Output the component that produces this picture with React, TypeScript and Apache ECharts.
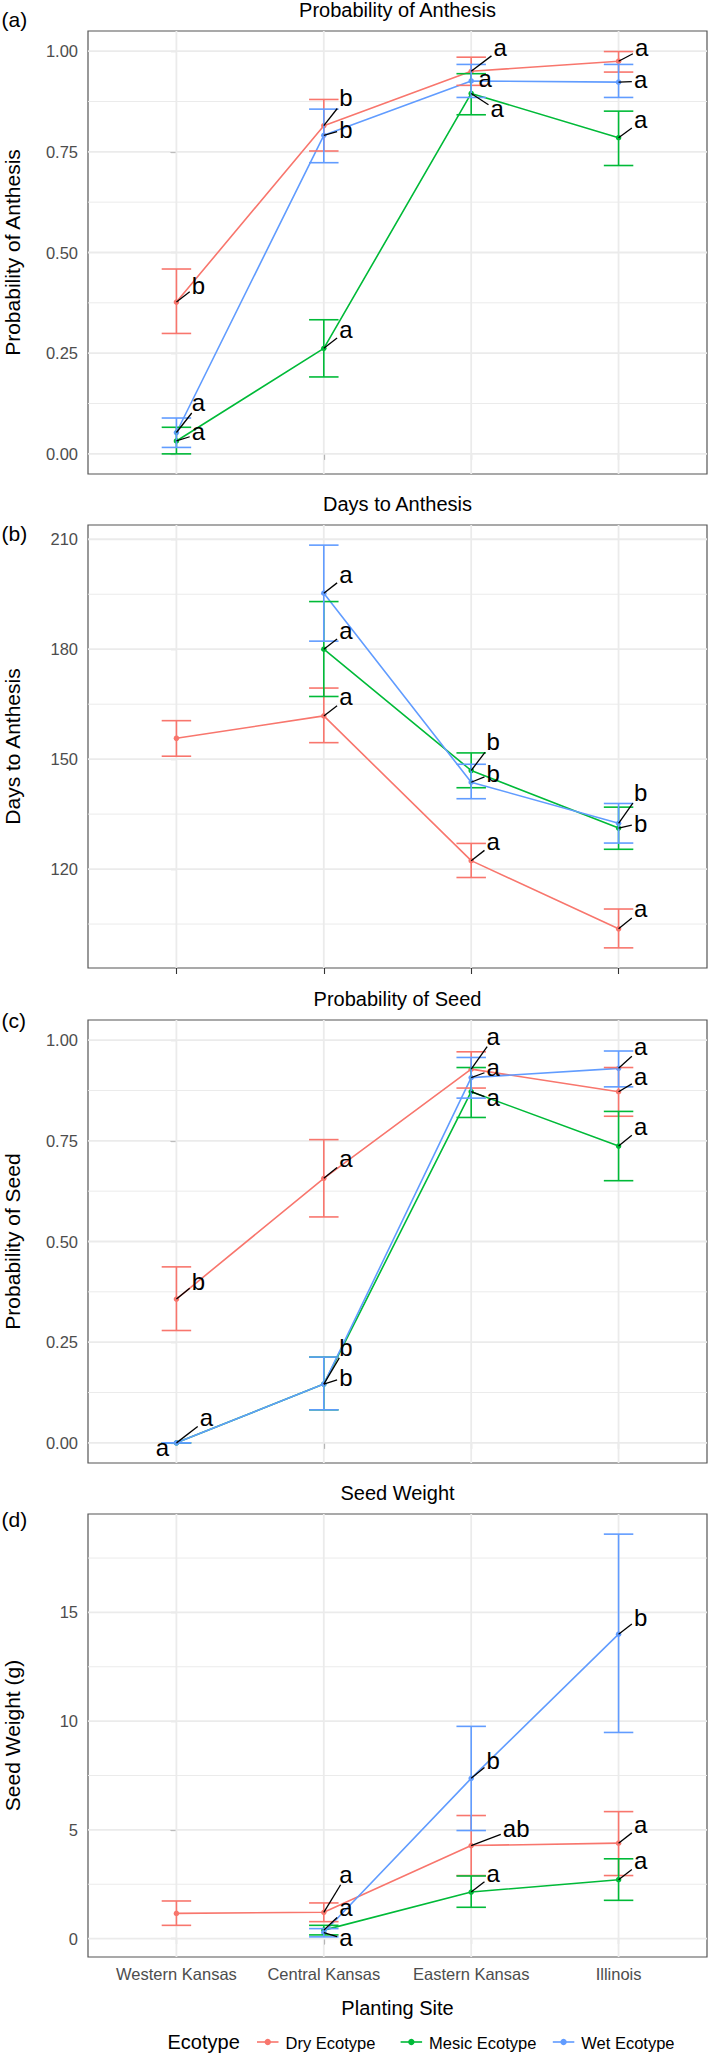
import React, { useEffect, useRef } from 'react';
import * as echarts from 'echarts';

// ---------- categories ----------
const sites = ['Western Kansas', 'Central Kansas', 'Eastern Kansas', 'Illinois'];
const ecotypes = ['Dry Ecotype', 'Mesic Ecotype', 'Wet Ecotype'];
const ecotypeColors = ['#F8766D', '#00BA38', '#619CFF'];

// ---------- (a) Probability of Anthesis ----------
const anthesisProbDry = [0.377, 0.815, 0.95, 0.975];
const anthesisProbDryLow = [0.299, 0.752, 0.915, 0.948];
const anthesisProbDryHigh = [0.459, 0.88, 0.985, 0.999];
const anthesisProbMesic = [0.032, 0.262, 0.895, 0.785];
const anthesisProbMesicLow = [0.0, 0.191, 0.842, 0.716];
const anthesisProbMesicHigh = [0.066, 0.333, 0.944, 0.851];
const anthesisProbWet = [0.053, 0.791, 0.926, 0.923];
const anthesisProbWetLow = [0.016, 0.723, 0.885, 0.885];
const anthesisProbWetHigh = [0.089, 0.856, 0.967, 0.967];
const anthesisProbLettersDry = ['b', 'b', 'a', 'a'];
const anthesisProbLettersMesic = ['a', 'a', 'a', 'a'];
const anthesisProbLettersWet = ['a', 'b', 'a', 'a'];

// ---------- (b) Days to Anthesis ----------
const daysDry = [155.7, 161.8, 122.3, 103.7];
const daysDryLow = [150.8, 154.5, 117.7, 98.5];
const daysDryHigh = [160.5, 169.4, 127.0, 109.1];
const daysMesic = [null, 180.0, 146.9, 131.2];
const daysMesicLow = [null, 167.1, 142.2, 125.4];
const daysMesicHigh = [null, 193.0, 151.7, 136.9];
const daysWet = [null, 195.3, 143.7, 132.5];
const daysWetLow = [null, 182.2, 139.2, 127.1];
const daysWetHigh = [null, 208.4, 148.6, 137.9];
const daysLettersDry = ['', 'a', 'a', 'a'];
const daysLettersMesic = ['', 'a', 'b', 'b'];
const daysLettersWet = ['', 'a', 'b', 'b'];

// ---------- (c) Probability of Seed ----------
const seedProbDry = [0.357, 0.657, 0.928, 0.872];
const seedProbDryLow = [0.279, 0.561, 0.881, 0.811];
const seedProbDryHigh = [0.437, 0.753, 0.971, 0.932];
const seedProbMesic = [0.0, 0.146, 0.872, 0.737];
const seedProbMesicLow = [0.0, 0.082, 0.808, 0.651];
const seedProbMesicHigh = [0.0, 0.213, 0.932, 0.823];
const seedProbWet = [0.0, 0.146, 0.907, 0.93];
const seedProbWetLow = [0.0, 0.082, 0.856, 0.884];
const seedProbWetHigh = [0.0, 0.213, 0.957, 0.973];
const seedProbLettersDry = ['b', 'a', 'a', 'a'];
const seedProbLettersMesic = ['a', 'b', 'a', 'a'];
const seedProbLettersWet = ['a', 'b', 'a', 'a'];

// ---------- (d) Seed Weight ----------
const seedWeightDry = [1.16, 1.21, 4.28, 4.39];
const seedWeightDryLow = [0.61, 0.78, 2.9, 2.9];
const seedWeightDryHigh = [1.73, 1.64, 5.66, 5.84];
const seedWeightMesic = [null, 0.39, 2.14, 2.71];
const seedWeightMesicLow = [null, 0.17, 1.44, 1.76];
const seedWeightMesicHigh = [null, 0.61, 2.88, 3.67];
const seedWeightWet = [null, 0.28, 7.37, 14.0];
const seedWeightWetLow = [null, 0.08, 4.97, 9.48];
const seedWeightWetHigh = [null, 0.46, 9.76, 18.6];
const seedWeightLettersDry = ['', 'a', 'ab', 'a'];
const seedWeightLettersMesic = ['', 'a', 'a', 'a'];
const seedWeightLettersWet = ['', 'a', 'b', 'b'];

// ---------- axis ticks ----------
const probLimits = [0, 1];
const probMajorTicks = [0, 0.25, 0.5, 0.75, 1];
const probMinorTicks = [0.125, 0.375, 0.625, 0.875];
const daysMajorTicks = [120, 150, 180, 210];
const daysMinorTicks = [105, 135, 165, 195];
const weightMajorTicks = [0, 5, 10, 15];
const weightMinorTicks = [2.5, 7.5, 12.5, 17.5];

// ---------- layout (pixel offsets of repelled letter labels from their points) ----------
const anthesisProbLabelOffsets = [
  [[22, -17], [22, -28], [29, -22], [23, -12]],
  [[22, -7], [22, -17], [26, 17], [22, -16]],
  [[22, -28], [22, -6], [14, 0], [22, -1]],
];
const daysLabelOffsets = [
  [[0, 0], [22, -17], [22, -17], [22, -18]],
  [[0, 0], [22, -17], [22, -29], [22, -5]],
  [[0, 0], [22, -17], [22, -9], [22, -31]],
];
const seedProbLabelOffsets = [
  [[22, -18], [22, -18], [22, -31], [22, -13]],
  [[-14, 7], [22, -7], [22, 8], [22, -18]],
  [[30, -23], [22, -37], [22, -8], [22, -20]],
];
const seedWeightLabelOffsets = [
  [[0, 0], [22, -36], [45, -17], [22, -17]],
  [[0, 0], [22, -21], [22, -17], [22, -17]],
  [[0, 0], [22, 7], [22, -18], [22, -17]],
];

const FONT = '"Liberation Sans", Arial, Helvetica, sans-serif';
const GRID_LEFT = 88;
const GRID_WIDTH = 619;
const GRID_HEIGHT = 443;
const panelTops = [31, 525, 1020, 1514];
const tagYs = [19, 533, 1020, 1519];

type Num = number | null;

function expand(lo: number, hi: number) {
  const r = hi - lo;
  return [lo - 0.05 * r, hi + 0.05 * r];
}
function dataRange(lows: Num[][], highs: Num[][]) {
  const l = lows.flat().filter((v) => v != null) as number[];
  const h = highs.flat().filter((v) => v != null) as number[];
  return [Math.min(...l), Math.max(...h)];
}

const panels = [
  {
    title: 'Probability of Anthesis',
    tag: '(a)',
    yName: 'Probability of Anthesis',
    mean: [anthesisProbDry, anthesisProbMesic, anthesisProbWet],
    low: [anthesisProbDryLow, anthesisProbMesicLow, anthesisProbWetLow],
    high: [anthesisProbDryHigh, anthesisProbMesicHigh, anthesisProbWetHigh],
    letters: [anthesisProbLettersDry, anthesisProbLettersMesic, anthesisProbLettersWet],
    offsets: anthesisProbLabelOffsets,
    limits: probLimits,
    majors: probMajorTicks,
    minors: probMinorTicks,
    decimals: 2,
  },
  {
    title: 'Days to Anthesis',
    tag: '(b)',
    yName: 'Days to Anthesis',
    mean: [daysDry, daysMesic, daysWet],
    low: [daysDryLow, daysMesicLow, daysWetLow],
    high: [daysDryHigh, daysMesicHigh, daysWetHigh],
    letters: [daysLettersDry, daysLettersMesic, daysLettersWet],
    offsets: daysLabelOffsets,
    limits: null as null | number[],
    majors: daysMajorTicks,
    minors: daysMinorTicks,
    decimals: 0,
  },
  {
    title: 'Probability of Seed',
    tag: '(c)',
    yName: 'Probability of Seed',
    mean: [seedProbDry, seedProbMesic, seedProbWet],
    low: [seedProbDryLow, seedProbMesicLow, seedProbWetLow],
    high: [seedProbDryHigh, seedProbMesicHigh, seedProbWetHigh],
    letters: [seedProbLettersDry, seedProbLettersMesic, seedProbLettersWet],
    offsets: seedProbLabelOffsets,
    limits: probLimits,
    majors: probMajorTicks,
    minors: probMinorTicks,
    decimals: 2,
  },
  {
    title: 'Seed Weight',
    tag: '(d)',
    yName: 'Seed Weight (g)',
    mean: [seedWeightDry, seedWeightMesic, seedWeightWet],
    low: [seedWeightDryLow, seedWeightMesicLow, seedWeightWetLow],
    high: [seedWeightDryHigh, seedWeightMesicHigh, seedWeightWetHigh],
    letters: [seedWeightLettersDry, seedWeightLettersMesic, seedWeightLettersWet],
    offsets: seedWeightLabelOffsets,
    limits: null as null | number[],
    majors: weightMajorTicks,
    minors: weightMinorTicks,
    decimals: 0,
  },
];

function buildOption() {
  const grids: any[] = [];
  const xAxes: any[] = [];
  const yAxes: any[] = [];
  const series: any[] = [];
  const graphics: any[] = [];
  const tickLine = { color: '#333333', width: 1.1 };

  panels.forEach((p, i) => {
    const lim = p.limits ? p.limits : dataRange(p.low as Num[][], p.high as Num[][]);
    const [ymin, ymax] = expand(lim[0], lim[1]);
    const top = panelTops[i];

    grids.push({
      left: GRID_LEFT,
      width: GRID_WIDTH,
      top,
      height: GRID_HEIGHT,
      show: true,
      borderColor: '#555555',
      borderWidth: 1.2,
      backgroundColor: 'transparent',
      containLabel: false,
    });
    xAxes.push({
      type: 'value',
      gridIndex: i,
      min: -0.6,
      max: 3.6,
      axisLine: { show: false },
      splitLine: { show: false },
      axisTick: { show: true, customValues: [0, 1, 2, 3], length: 6, lineStyle: tickLine },
      axisLabel: {
        show: i === 3,
        customValues: [0, 1, 2, 3],
        formatter: (v: number) => sites[Math.round(v)] ?? '',
        margin: 8,
        color: '#4D4D4D',
        fontSize: 16.5,
        fontFamily: FONT,
      },
    });
    yAxes.push({
      type: 'value',
      gridIndex: i,
      min: ymin,
      max: ymax,
      axisLine: { show: false },
      splitLine: { show: false },
      axisTick: { show: true, customValues: p.majors, length: 6, lineStyle: tickLine },
      axisLabel: {
        customValues: p.majors,
        formatter: (v: number) => v.toFixed(p.decimals),
        margin: 10,
        color: '#4D4D4D',
        fontSize: 16.5,
        fontFamily: FONT,
      },
    });

    // background grid lines (major + minor) drawn through the axes' scales
    series.push({
      type: 'custom',
      xAxisIndex: i,
      yAxisIndex: i,
      silent: true,
      z: 1,
      clip: false,
      data: [[1.5, (ymin + ymax) / 2]],
      renderItem: (params: any, api: any) => {
        const cs = params.coordSys;
        const children: any[] = [];
        p.minors.forEach((v) => {
          const y = api.coord([0, v])[1];
          children.push({
            type: 'line',
            shape: { x1: cs.x, y1: y, x2: cs.x + cs.width, y2: y },
            style: { stroke: '#EBEBEB', lineWidth: 1 },
          });
        });
        p.majors.forEach((v) => {
          const y = api.coord([0, v])[1];
          children.push({
            type: 'line',
            shape: { x1: cs.x, y1: y, x2: cs.x + cs.width, y2: y },
            style: { stroke: '#EBEBEB', lineWidth: 1.8 },
          });
        });
        sites.forEach((_, j) => {
          const x = api.coord([j, ymin])[0];
          children.push({
            type: 'line',
            shape: { x1: x, y1: cs.y, x2: x, y2: cs.y + cs.height },
            style: { stroke: '#EBEBEB', lineWidth: 1.8 },
          });
        });
        return { type: 'group', children };
      },
    });

    // lines + points
    ecotypes.forEach((name, k) => {
      const pts: number[][] = [];
      (p.mean[k] as Num[]).forEach((v, j) => {
        if (v != null) pts.push([j, v]);
      });
      series.push({
        type: 'line',
        name,
        xAxisIndex: i,
        yAxisIndex: i,
        data: pts,
        symbol: 'circle',
        symbolSize: 5.5,
        showSymbol: true,
        silent: true,
        z: 2 + k * 0.01,
        lineStyle: { color: ecotypeColors[k], width: 1.6 },
        itemStyle: { color: ecotypeColors[k] },
      });
    });

    // error bars
    ecotypes.forEach((name, k) => {
      const bars: number[][] = [];
      (p.mean[k] as Num[]).forEach((v, j) => {
        const lo = (p.low[k] as Num[])[j];
        const hi = (p.high[k] as Num[])[j];
        if (v != null && lo != null && hi != null) bars.push([j, lo, hi]);
      });
      series.push({
        type: 'custom',
        name: name + ' error',
        xAxisIndex: i,
        yAxisIndex: i,
        silent: true,
        z: 3 + k * 0.01,
        clip: false,
        encode: { x: 0, y: [1, 2] },
        data: bars,
        renderItem: (params: any, api: any) => {
          const x = api.value(0);
          const lo = api.value(1);
          const hi = api.value(2);
          const pLo = api.coord([x, lo]);
          const pHi = api.coord([x, hi]);
          const xl = api.coord([x - 0.1, hi])[0];
          const xr = api.coord([x + 0.1, hi])[0];
          const st = { stroke: ecotypeColors[k], lineWidth: 1.6 };
          return {
            type: 'group',
            children: [
              { type: 'line', shape: { x1: pLo[0], y1: pLo[1], x2: pHi[0], y2: pHi[1] }, style: st },
              { type: 'line', shape: { x1: xl, y1: pHi[1], x2: xr, y2: pHi[1] }, style: st },
              { type: 'line', shape: { x1: xl, y1: pLo[1], x2: xr, y2: pLo[1] }, style: st },
            ],
          };
        },
      });
    });

    // letter labels with leader segments
    ecotypes.forEach((name, k) => {
      const items: number[][] = [];
      (p.mean[k] as Num[]).forEach((v, j) => {
        const letter = p.letters[k][j];
        if (v != null && letter) items.push([j, v]);
      });
      series.push({
        type: 'custom',
        name: name + ' letters',
        xAxisIndex: i,
        yAxisIndex: i,
        silent: true,
        z: 5,
        clip: false,
        data: items,
        renderItem: (params: any, api: any) => {
          const j = api.value(0);
          const v = api.value(1);
          const letter = p.letters[k][j];
          const off = p.offsets[k][j];
          const pt = api.coord([j, v]);
          const cx = pt[0] + off[0];
          const cy = pt[1] + off[1];
          const fs = 24;
          const hasAsc = /[bdfhklt]/.test(letter);
          const hw = letter.length * 0.28 * fs + 2;
          const hh = (hasAsc ? 0.37 : 0.27) * fs + 2;
          const children: any[] = [];
          const dx = cx - pt[0];
          const dy = cy - pt[1];
          const t = Math.min(
            dx !== 0 ? hw / Math.abs(dx) : Infinity,
            dy !== 0 ? hh / Math.abs(dy) : Infinity
          );
          if (t < 1) {
            const ex = cx - dx * t;
            const ey = cy - dy * t;
            const len = Math.hypot(ex - pt[0], ey - pt[1]);
            if (len > 7) {
              children.push({
                type: 'line',
                shape: { x1: pt[0], y1: pt[1], x2: ex, y2: ey },
                style: { stroke: '#000000', lineWidth: 1.3 },
              });
            }
          }
          children.push({
            type: 'text',
            x: cx,
            y: cy - (hasAsc ? 0 : 2),
            style: {
              text: letter,
              fill: '#000000',
              fontSize: fs,
              fontFamily: FONT,
              align: 'center',
              verticalAlign: 'middle',
              textAlign: 'center',
              textVerticalAlign: 'middle',
            },
          });
          return { type: 'group', children };
        },
      });
    });

    // panel title, tag and y-axis title
    graphics.push({
      type: 'text',
      x: GRID_LEFT + GRID_WIDTH / 2,
      y: top - 21.2,
      style: {
        text: p.title,
        fill: '#000000',
        fontSize: 20,
        fontFamily: FONT,
        align: 'center',
        verticalAlign: 'middle',
      },
    });
    graphics.push({
      type: 'text',
      x: 1.5,
      y: tagYs[i],
      style: {
        text: p.tag,
        fill: '#000000',
        fontSize: 21,
        fontFamily: FONT,
        align: 'left',
        verticalAlign: 'middle',
      },
    });
    graphics.push({
      type: 'text',
      x: 12,
      y: top + GRID_HEIGHT / 2,
      rotation: Math.PI / 2,
      style: {
        text: p.yName,
        fill: '#000000',
        fontSize: 21,
        fontFamily: FONT,
        align: 'center',
        verticalAlign: 'middle',
      },
    });
  });

  // x-axis title
  graphics.push({
    type: 'text',
    x: GRID_LEFT + GRID_WIDTH / 2,
    y: 2008,
    style: {
      text: 'Planting Site',
      fill: '#000000',
      fontSize: 20,
      fontFamily: FONT,
      align: 'center',
      verticalAlign: 'middle',
    },
  });

  // legend
  const legendY = 2042;
  graphics.push({
    type: 'text',
    x: 167.5,
    y: legendY - 0.5,
    style: { text: 'Ecotype', fill: '#000000', fontSize: 20, fontFamily: FONT, align: 'left', verticalAlign: 'middle' },
  });
  const keyStarts = [257, 400.6, 552.8];
  ecotypes.forEach((name, k) => {
    const x0 = keyStarts[k];
    graphics.push({
      type: 'line',
      shape: { x1: x0, y1: legendY, x2: x0 + 21.5, y2: legendY },
      style: { stroke: ecotypeColors[k], lineWidth: 1.6 },
    });
    graphics.push({
      type: 'circle',
      shape: { cx: x0 + 10.75, cy: legendY, r: 3.2 },
      style: { fill: ecotypeColors[k] },
    });
    graphics.push({
      type: 'text',
      x: x0 + 28.5,
      y: legendY + 0.6,
      style: { text: name, fill: '#000000', fontSize: 16.5, fontFamily: FONT, align: 'left', verticalAlign: 'middle' },
    });
  });

  return {
    animation: false,
    backgroundColor: '#ffffff',
    grid: grids,
    xAxis: xAxes,
    yAxis: yAxes,
    series,
    graphic: { elements: graphics },
  };
}

export default function App() {
  const ref = useRef<HTMLDivElement>(null);
  useEffect(() => {
    document.body.style.margin = '0';
    if (!ref.current) return;
    const chart = echarts.init(ref.current, undefined, { renderer: 'svg', width: 709, height: 2057 });
    chart.setOption(buildOption() as any);
    return () => chart.dispose();
  }, []);
  return (
    <div
      ref={ref}
      style={{ position: 'absolute', left: 0, top: 0, width: 709, height: 2057, background: '#ffffff' }}
    />
  );
}
